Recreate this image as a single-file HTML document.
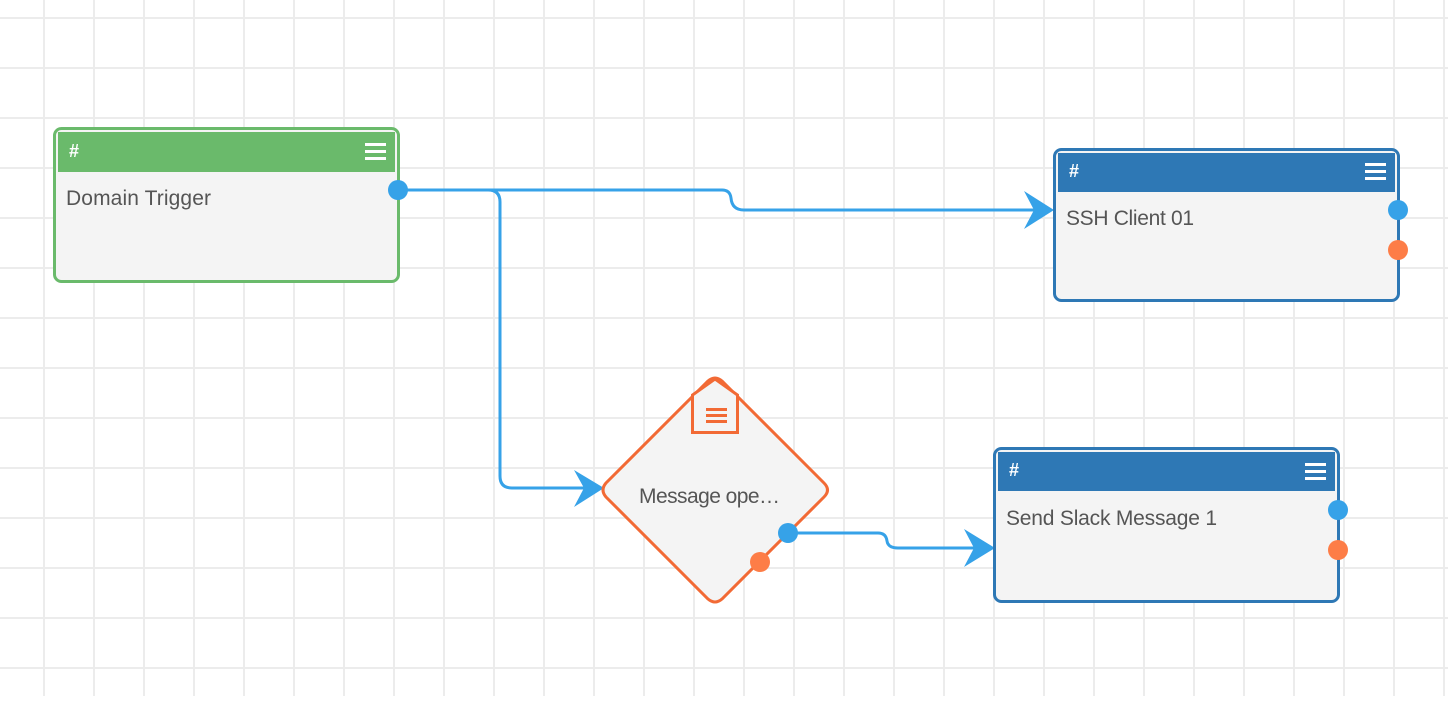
<!DOCTYPE html>
<html><head><style>
body{margin:0;width:1448px;height:696px;overflow:hidden;background:#fff;font-family:"Liberation Sans",sans-serif;}
</style></head><body>
<svg width="1448" height="696" xmlns="http://www.w3.org/2000/svg">
<defs>
<pattern id="g" x="43" y="17" width="50" height="50" patternUnits="userSpaceOnUse">
<path d="M1 0V50M0 1H50" stroke="#ececec" stroke-width="2" fill="none"/>
</pattern>
</defs>
<rect width="1448" height="696" fill="url(#g)"/>
<g fill="none" stroke="#36a2e8" stroke-width="3">
<path d="M398 190H488Q500 190 500 202V476Q500 488 512 488H590"/>
<path d="M398 190H722Q730 190 731 198Q732 210 744 210H1040"/>
<path d="M788 533H878Q886 533 887 541Q888 548 898 548H982"/>
</g>
<g fill="#36a2e8">
<path d="M604 488L574 470L584 488L574 507Z"/>
<path d="M1054 210L1024 191L1034 210L1024 229Z"/>
<path d="M995 548L964 529L974 548L964 567Z"/>
</g>
<!-- Domain Trigger -->
<rect x="54.5" y="128.5" width="344" height="153" rx="7" fill="#f4f4f4" stroke="#6aba6b" stroke-width="3"/>
<rect x="58" y="132" width="337" height="40" fill="#6aba6b"/>
<text x="69" y="157" fill="#fff" font-weight="bold" font-size="18">#</text>
<g fill="#fff"><rect x="365" y="143" width="21" height="3"/><rect x="365" y="150" width="21" height="3"/><rect x="365" y="157" width="21" height="3"/></g>
<text x="66" y="205" fill="#555" font-size="21" textLength="145">Domain Trigger</text>
<circle cx="398" cy="190" r="10" fill="#36a2e8"/>
<!-- SSH -->
<rect x="1054.5" y="149.5" width="344" height="151" rx="7" fill="#f4f4f4" stroke="#2e78b5" stroke-width="3"/>
<rect x="1058" y="153" width="337" height="39" fill="#2e78b5"/>
<text x="1069" y="177" fill="#fff" font-weight="bold" font-size="18">#</text>
<g fill="#fff"><rect x="1365" y="163" width="21" height="3"/><rect x="1365" y="170" width="21" height="3"/><rect x="1365" y="177" width="21" height="3"/></g>
<text x="1066" y="225" fill="#555" font-size="21" textLength="128">SSH Client 01</text>
<circle cx="1398" cy="210" r="10" fill="#36a2e8"/>
<circle cx="1398" cy="250" r="10" fill="#fd7d47"/>
<!-- Slack -->
<rect x="994.5" y="448.5" width="344" height="153" rx="7" fill="#f4f4f4" stroke="#2e78b5" stroke-width="3"/>
<rect x="998" y="452" width="337" height="39" fill="#2e78b5"/>
<text x="1009" y="476" fill="#fff" font-weight="bold" font-size="18">#</text>
<g fill="#fff"><rect x="1305" y="463" width="21" height="3"/><rect x="1305" y="470" width="21" height="3"/><rect x="1305" y="477" width="21" height="3"/></g>
<text x="1006" y="525" fill="#555" font-size="21" textLength="211">Send Slack Message 1</text>
<circle cx="1338" cy="510" r="10" fill="#36a2e8"/>
<circle cx="1338" cy="550" r="10" fill="#fd7d47"/>
<!-- Diamond -->
<path d="M708 381Q715 375 722 381L824 483Q831 490 824 497L722 599Q715 605 708 599L606 497Q600 490 606 483Z" fill="#f4f4f4" stroke="#f26a35" stroke-width="3"/>
<path d="M692.5 432.5V395L715 379L737.5 395V432.5Z" fill="#f4f4f4" stroke="#f26a35" stroke-width="3"/>
<g fill="#f26a35"><rect x="706" y="408" width="21" height="3"/><rect x="706" y="414" width="21" height="3"/><rect x="706" y="420" width="21" height="3"/></g>
<text x="639" y="503" fill="#555" font-size="21" textLength="141">Message ope…</text>
<circle cx="788" cy="533" r="10" fill="#36a2e8"/>
<circle cx="760" cy="562" r="10" fill="#fd7d47"/>
</svg>
</body></html>
